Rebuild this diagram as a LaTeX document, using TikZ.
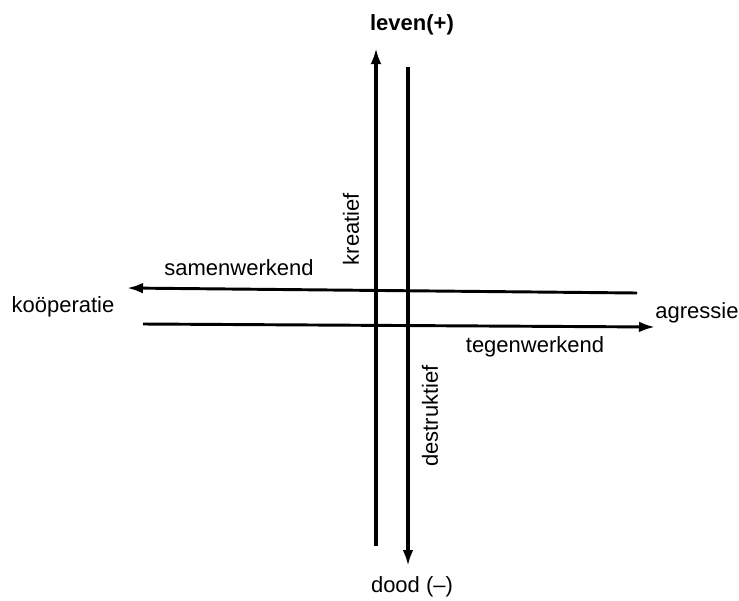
\documentclass[tikz,border=0pt]{standalone}
\usepackage{fontspec}
\setmainfont{Liberation Sans}
\usetikzlibrary{arrows.meta, positioning}
\tikzset{
  axisarrow/.style={line width=2.9pt, -{Latex[length=12pt,width=8pt]}},
  axisline/.style={line width=2.2pt, -{Latex[length=12pt,width=8pt]}},
  lbl/.style={font=\fontsize{16.5}{18}\selectfont, inner sep=0pt}
}

\begin{document}
\begin{tikzpicture}[x=0.75pt, y=-0.75pt]
  \useasboundingbox (0,0) rectangle (739,600);

  % --- Labels ---
  \node[lbl, font=\fontsize{16.5}{18}\selectfont\bfseries] (leven) at (412,25) {leven(+)};
  \node[lbl] (dood) at (412,587) {dood (--)};
  \node[lbl] (koop) at (63,307) {ko\"operatie};
  \node[lbl] (agr) at (697,313) {agressie};
  \node[lbl] (samen) at (239,268) {samenwerkend};
  \node[lbl] (tegen) at (535,347) {tegenwerkend};
  \node[lbl, rotate=90] (kreatief) at (351,229) {kreatief};
  \node[lbl, rotate=90] (destr) at (430,416) {destruktief};

  % --- Arrow ends ---
  \coordinate (upS) at (376,546);
  \coordinate (upE) at (376,48);
  \coordinate (dnS) at (408,67);
  \coordinate (dnE) at (408,566);
  \coordinate (lfS) at (637,293);
  \coordinate (lfE) at (127,288);
  \coordinate (rtS) at (143,324);
  \coordinate (rtE) at (655,327);

  % Vertical: leven / dood
  \draw[axisarrow] (upS) -- (upE);
  \draw[axisarrow] (dnS) -- (dnE);
  % Horizontal: koöperatie / agressie
  \draw[axisline] (lfS) -- (lfE);
  \draw[axisline] (rtS) -- (rtE);
\end{tikzpicture}
\end{document}
